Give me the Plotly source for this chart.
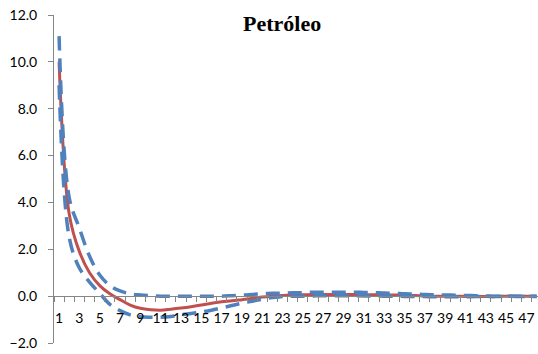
import plotly.graph_objects as go

periods = list(range(1, 49))

irf = [10.0, 3.5, 1.9, 1.0, 0.45, 0.1, -0.15, -0.38, -0.52, -0.58,
       -0.6, -0.56, -0.51, -0.45, -0.38, -0.3, -0.24, -0.2, -0.15, -0.1,
       -0.04, 0.0, 0.03, 0.05, 0.06, 0.07, 0.07, 0.07, 0.07, 0.07,
       0.06, 0.06, 0.05, 0.05, 0.04, 0.03, 0.01, 0.0, 0.0, 0.0,
       -0.01, -0.01, -0.01, -0.01, 0.0, 0.0, 0.0, 0.0]

upper = [11.1, 4.2, 2.9, 1.7, 0.9, 0.45, 0.22, 0.1, 0.05, 0.02,
         0.0, 0.0, 0.0, 0.0, 0.0, 0.0, 0.0, 0.02, 0.04, 0.07,
         0.1, 0.12, 0.13, 0.14, 0.15, 0.17, 0.17, 0.17, 0.17, 0.17,
         0.16, 0.15, 0.13, 0.12, 0.1, 0.09, 0.07, 0.06, 0.05, 0.04,
         0.03, 0.02, 0.01, 0.0, 0.0, 0.0, 0.0, 0.0]

lower = [9.0, 2.5, 1.2, 0.6, 0.12, -0.35, -0.62, -0.8, -0.88, -0.9,
         -0.9, -0.87, -0.8, -0.74, -0.68, -0.6, -0.5, -0.4, -0.3, -0.22,
         -0.13, -0.06, -0.01, 0.0, 0.0, 0.01, 0.02, 0.02, 0.02, 0.02,
         0.01, 0.01, 0.0, 0.0, -0.01, -0.02, -0.02, -0.03, -0.03, -0.03,
         -0.03, -0.02, -0.02, -0.02, -0.01, -0.01, -0.01, -0.01]

x_tick_labels = [str(p) for p in periods if p % 2 == 1]
x_tick_vals = [p for p in periods if p % 2 == 1]
y_ticks = [-2, 0, 2, 4, 6, 8, 10, 12]
title_text = "Petróleo"

RED = "#C0504D"
BLUE = "#4F81BD"
AXIS = "#868686"

fig = go.Figure()
fig.add_trace(go.Scatter(x=periods, y=irf, mode="lines",
                         line=dict(color=RED, width=3, shape="spline", smoothing=1.0),
                         hoverinfo="skip"))
fig.add_trace(go.Scatter(x=periods, y=upper, mode="lines",
                         line=dict(color=BLUE, width=3.5, dash="14px,8px", shape="spline", smoothing=1.0),
                         hoverinfo="skip"))
fig.add_trace(go.Scatter(x=periods, y=lower, mode="lines",
                         line=dict(color=BLUE, width=3.5, dash="14px,8px", shape="spline", smoothing=1.0),
                         hoverinfo="skip"))

L, R, T, B = 53.5, 0, 14.5, 11
W, H = 538, 354
pw = W - L - R
ph = H - T - B

fig.update_layout(
    width=W, height=H,
    margin=dict(l=L, r=R, t=T, b=B, pad=0, autoexpand=False),
    paper_bgcolor="white", plot_bgcolor="white",
    showlegend=False,
    font=dict(family="Lato, 'Open Sans', sans-serif", size=14, color="#000000"),
    xaxis=dict(
        range=[0.5, 0.5 + pw / 10.17],
        anchor="free", position=2 / 14, automargin=False,
        tickmode="array", tickvals=x_tick_vals, ticktext=x_tick_labels,
        ticks="", ticklabelstandoff=9,
        minor=dict(tickmode="linear", tick0=0.5, dtick=1, ticks="outside",
                   ticklen=5, tickcolor=AXIS, tickwidth=1, showgrid=False),
        showline=True, linecolor=AXIS, linewidth=1,
        showgrid=False, zeroline=False,
        tickfont=dict(family="Lato, sans-serif", size=14, color="#000000"),
    ),
    yaxis=dict(
        range=[-2, 12], tickmode="array", tickvals=y_ticks, automargin=False,
        tickformat=".1f", ticks="outside", ticklen=5, tickcolor=AXIS,
        ticklabelstandoff=8,
        showline=True, linecolor=AXIS, linewidth=1,
        showgrid=False, zeroline=False,
        tickfont=dict(family="Lato, sans-serif", size=14, color="#000000"),
    ),
)

fig.add_annotation(
    text="<b>" + title_text + "</b>",
    xref="paper", yref="paper",
    x=(281.5 - L) / pw, y=1 - (23 - T) / ph,
    xanchor="center", yanchor="middle", showarrow=False,
    font=dict(family="Liberation Serif, serif", size=22, color="#000000"),
)

fig.write_html("out.html", config={"displayModeBar": False},
               post_script="document.body.style.margin='0';document.body.style.overflow='hidden';")
